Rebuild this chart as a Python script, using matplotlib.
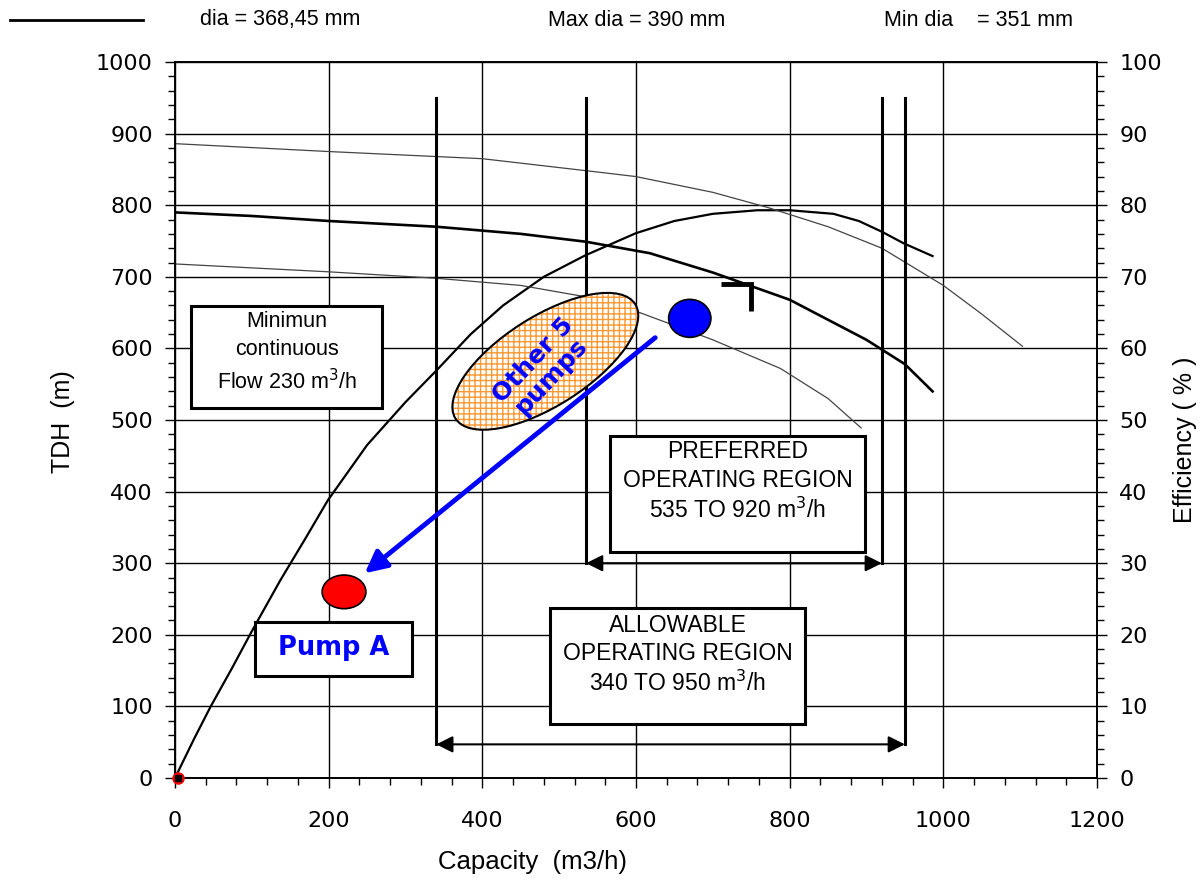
import matplotlib
matplotlib.use("Agg")
import matplotlib.pyplot as plt
from matplotlib.lines import Line2D
from matplotlib.patches import Ellipse, Rectangle
from matplotlib.ticker import MultipleLocator
from matplotlib.transforms import ScaledTranslation

# head curves: capacity (m3/h) -> TDH (m)
q_368 = [0, 100, 200, 340, 450, 535, 618, 700, 800, 900, 950, 986]
tdh_368 = [790, 785, 778, 770, 760, 749, 733, 706, 668, 612, 578, 540]
q_390 = [0, 200, 400, 553, 600, 700, 771, 850, 920, 1000, 1050, 1103]
tdh_390 = [886, 875, 865, 846, 840, 818, 797, 770, 740, 688, 648, 603]
q_351 = [0, 200, 340, 450, 535, 600, 700, 788, 850, 893]
tdh_351 = [718, 707, 698, 688, 672, 652, 612, 572, 530, 489]

# efficiency curve (%)
q_eff = [0, 25, 46, 75, 100, 137, 170, 199, 250, 300, 341, 385, 427, 480,
         534, 600, 650, 700, 758, 800, 857, 890, 920, 948, 986]
eff = [0, 5.5, 9.9, 15.5, 20.5, 27.6, 33.5, 38.8, 46.5, 52.5, 57.0, 62.0,
       66.0, 70.0, 73.0, 76.1, 77.8, 78.8, 79.3, 79.3, 78.8, 77.8, 76.3,
       74.7, 72.9]

# operating regions (m3/h)
allowable = [340, 950]
preferred = [535, 920]

# pump points
pump_a = (220, 260)
other_pumps = (670, 642)
other_cloud = (482, 582)

plt.rcParams["font.family"] = ["Liberation Sans", "DejaVu Sans"]
plt.rcParams["hatch.linewidth"] = 1.0

fig = plt.figure(figsize=(12.01, 8.80), dpi=100)
ax = fig.add_axes([0.1457, 0.1159, 0.9134 - 0.1457, 0.9295 - 0.1159])
ax2 = ax.twinx()
ax.set_zorder(ax2.get_zorder() + 1)
ax.patch.set_visible(False)

ax.set_xlim(0, 1200)
ax.set_ylim(0, 1000)
ax2.set_ylim(0, 100)
ax.xaxis.set_major_locator(MultipleLocator(200))
ax.xaxis.set_minor_locator(MultipleLocator(40))
ax.yaxis.set_major_locator(MultipleLocator(100))
ax.yaxis.set_minor_locator(MultipleLocator(20))
ax2.yaxis.set_major_locator(MultipleLocator(10))
ax2.yaxis.set_minor_locator(MultipleLocator(2))

ax.grid(True, which="major", color="black", lw=1.0)
ax.set_axisbelow(True)
for a in (ax, ax2):
    for s in a.spines.values():
        s.set_linewidth(1.2)
    a.tick_params(which="major", direction="out", length=7, width=1.0,
                  labelsize=16, labelfontfamily="DejaVu Sans")
    a.tick_params(which="minor", direction="out", length=5, width=1.0)
ax.tick_params(axis="x", pad=17)
ax.tick_params(axis="y", pad=9)
ax2.tick_params(axis="y", pad=9)

# axis titles
fig.text(533 / 1201, 1 - 862 / 880, "Capacity  (m3/h)", fontsize=18.5,
         ha="center", va="center")
fig.text(63 / 1201, 1 - 422 / 880, "TDH  (m)", fontsize=18, rotation=90,
         ha="center", va="center")
fig.text(1185 / 1201, 1 - 440 / 880, "Efficiency ( % )", fontsize=18,
         rotation=90, ha="center", va="center")

# curves
ax2.plot(q_eff, eff, color="black", lw=1.6)
ax.plot(q_368, tdh_368, color="black", lw=1.9)
ax.plot(q_390, tdh_390, color="#444444", lw=0.9)
ax.plot(q_351, tdh_351, color="#444444", lw=0.9)

# region limits
for q in allowable:
    ax.plot([q, q], [47, 950], color="black", lw=2.2)
for q in preferred:
    ax.plot([q, q], [300, 950], color="black", lw=2.2)
arrow_kw = dict(arrowstyle="<|-|>", color="black", lw=1.5,
                mutation_scale=25, shrinkA=0, shrinkB=0)
ax.annotate("", xy=(allowable[1], 47), xytext=(allowable[0], 47),
            arrowprops=arrow_kw)
ax.annotate("", xy=(preferred[1], 300), xytext=(preferred[0], 300),
            arrowprops=arrow_kw)

ax.plot([710, 750, 750], [690, 690, 652], color="black", lw=3.5,
        solid_joinstyle="miter", solid_capstyle="butt")

# text boxes
box_kw = dict(facecolor="white", edgecolor="black", lw=2.2, zorder=4)
ax.add_patch(Rectangle((21, 517), 249, 142, **box_kw))
ax.text(146, 594, "Minimun\ncontinuous\nFlow 230 m$^3$/h", ha="center",
        va="center", fontsize=15.5, linespacing=1.45, zorder=5)
ax.add_patch(Rectangle((566, 316), 332, 162, **box_kw))
ax.text(732, 414, "PREFERRED\nOPERATING REGION\n535 TO 920 m$^3$/h",
        ha="center", va="center", fontsize=16.5, linespacing=1.3, zorder=5)
ax.add_patch(Rectangle((488, 75), 332, 162, **box_kw))
ax.text(654, 172, "ALLOWABLE\nOPERATING REGION\n340 TO 950 m$^3$/h",
        ha="center", va="center", fontsize=16.5, linespacing=1.3, zorder=5)
ax.add_patch(Rectangle((104, 142), 205, 76, **box_kw))
ax.text(206, 182, "Pump A", ha="center", va="center", fontsize=18.5,
        fontweight="bold", color="#0000ff", family="DejaVu Sans", zorder=5)

# other pumps cloud
cloud_tr = fig.dpi_scale_trans + ScaledTranslation(*other_cloud, ax.transData)
ax.add_patch(Ellipse((0, 0), 2.13, 0.89, angle=32.5, transform=cloud_tr,
                     facecolor="white", edgecolor="#ff9933", hatch="+++",
                     lw=0, zorder=5))
ax.add_patch(Ellipse((0, 0), 2.13, 0.89, angle=32.5, transform=cloud_tr,
                     facecolor="none", edgecolor="black", lw=1.5, zorder=6))
ax.text(478, 572, "Other 5\npumps", rotation=47, rotation_mode="anchor",
        ha="center", va="center", fontsize=18, fontweight="bold",
        color="#0000ff", family="DejaVu Sans", linespacing=1.0, zorder=7)

# pump points and arrow
ax.add_patch(Ellipse(other_pumps, 55, 53, facecolor="#0000ff",
                     edgecolor="black", lw=1.2, zorder=6))
ax.add_patch(Ellipse(pump_a, 57, 47, facecolor="#ff0000",
                     edgecolor="black", lw=1.2, zorder=6))
ax.annotate("", xy=(247, 286), xytext=(625, 615),
            arrowprops=dict(arrowstyle="-|>,head_length=0.6,head_width=0.3",
                            color="#0000ff", lw=3.5, mutation_scale=22,
                            shrinkA=0, shrinkB=0), zorder=6)
ax.plot([4], [0], marker="o", ms=8, color="#ff0000", clip_on=False, zorder=7)
ax.plot([4], [0], marker="s", ms=4, color="black", clip_on=False, zorder=8)

# header legend
fig.add_artist(Line2D([10 / 1201, 143 / 1201], [1 - 20 / 880, 1 - 20 / 880],
                      color="black", lw=2.0))
fig.text(200 / 1201, 1 - 20 / 880, "dia = 368,45 mm", fontsize=15.5,
         va="center")
fig.text(548 / 1201, 1 - 20 / 880, "Max dia = 390 mm", fontsize=15.5,
         va="center")
fig.text(884 / 1201, 1 - 20 / 880, "Min dia    = 351 mm", fontsize=15.5,
         va="center")

fig.savefig("out.png", dpi=100)
